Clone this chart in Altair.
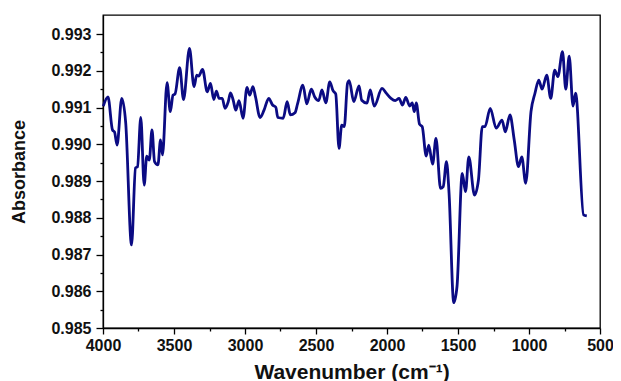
import altair as alt
import pandas as pd

wavenumber = [3998, 3965, 3933, 3919, 3901, 3868, 3840, 3799, 3771, 3757, 3734, 3710, 3692, 3674,
              3655, 3637, 3613, 3595, 3581, 3549, 3526, 3507, 3493, 3460, 3433, 3391, 3359, 3340,
              3326, 3299, 3266, 3243, 3220, 3201, 3183, 3160, 3141, 3118, 3102, 3083, 3065, 3042,
              3014, 2986, 2967, 2944, 2926, 2894, 2866, 2833, 2806, 2783, 2769, 2731, 2703, 2681,
              2648, 2630, 2592, 2565, 2533, 2509, 2481, 2458, 2431, 2403, 2380, 2361, 2338, 2319,
              2301, 2278, 2266, 2234, 2197, 2178, 2141, 2118, 2090, 2035, 2007, 1972, 1942, 1915,
              1891, 1868, 1840, 1822, 1808, 1794, 1771, 1752, 1724, 1706, 1679, 1655, 1623, 1604,
              1581, 1563, 1530, 1507, 1470, 1447, 1424, 1384, 1356, 1329, 1310, 1273, 1231, 1190,
              1167, 1134, 1104, 1074, 1051, 1023, 986, 958, 931, 908, 875, 847, 819, 797, 764, 741,
              717, 690, 672, 616, 593]
absorbance = [0.99104, 0.99129, 0.99039, 0.99034, 0.98998, 0.99125, 0.99058, 0.98726, 0.98936,
              0.98939, 0.99073, 0.98889, 0.98968, 0.98957, 0.99039, 0.98953, 0.98944, 0.99012,
              0.98971, 0.99168, 0.99089, 0.99134, 0.99137, 0.99209, 0.99122, 0.99261, 0.99157,
              0.99188, 0.99186, 0.99204, 0.99143, 0.99166, 0.99122, 0.99145, 0.99125, 0.99125,
              0.99098, 0.99116, 0.99140, 0.99120, 0.99093, 0.99119, 0.99071, 0.99155, 0.99134,
              0.99157, 0.99129, 0.99073, 0.99093, 0.99125, 0.99107, 0.99101, 0.99073, 0.99071,
              0.99116, 0.99080, 0.99086, 0.99110, 0.99161, 0.99110, 0.99150, 0.99129, 0.99119,
              0.99148, 0.99113, 0.99170, 0.99146, 0.99137, 0.98989, 0.99052, 0.99048, 0.99166,
              0.99173, 0.99116, 0.99159, 0.99120, 0.99112, 0.99148, 0.99104, 0.99152, 0.99140,
              0.99125, 0.99119, 0.99125, 0.99107, 0.99128, 0.99104, 0.99113, 0.99089, 0.99113,
              0.99055, 0.99048, 0.98968, 0.98998, 0.98946, 0.99016, 0.98880, 0.98885, 0.98953,
              0.98867, 0.98569, 0.98613, 0.98921, 0.98871, 0.98966, 0.98862, 0.98903, 0.99048,
              0.99048, 0.99098, 0.99044, 0.99066, 0.99034, 0.99080, 0.99012, 0.98939, 0.98966,
              0.98894, 0.99089, 0.99139, 0.99175, 0.99150, 0.99188, 0.99125, 0.99202, 0.99184,
              0.99252, 0.99150, 0.99240, 0.99104, 0.99139, 0.98808, 0.98805]

x_ticks = [500, 750, 1000, 1250, 1500, 1750, 2000, 2250, 2500, 2750, 3000, 3250, 3500, 3750, 4000]
y_ticks = [0.985, 0.9855, 0.986, 0.9865, 0.987, 0.9875, 0.988, 0.9885, 0.989, 0.9895,
           0.990, 0.9905, 0.991, 0.9915, 0.992, 0.9925, 0.993]

df = pd.DataFrame({"wn": wavenumber, "ab": absorbance})

FONT = "Liberation Sans"

x_axis = alt.Axis(
    values=x_ticks,
    labelExpr="datum.value % 500 === 0 ? format(datum.value, 'd') : ''",
    tickSize={"condition": {"test": "datum.value % 500 === 0", "value": 6}, "value": 3},
    labelFlush=False, labelOverlap=False, grid=False,
    labelFont=FONT, labelFontSize=16, labelFontWeight="bold", labelColor="#111",
    labelPadding=3,
    title="Wavenumber (cm\u207b\u00b9)", titleFont=FONT, titleFontSize=21,
    titleFontWeight="bold", titleColor="#111", titlePadding=8,
    domainColor="black", tickColor="black", domainWidth=1.3, tickWidth=1.3,
)
y_axis = alt.Axis(
    values=y_ticks,
    labelExpr="round(datum.value * 10000) % 10 === 0 ? format(datum.value, '.3f') : ''",
    tickSize={"condition": {"test": "round(datum.value * 10000) % 10 === 0", "value": 7}, "value": 3},
    labelOverlap=False, labelFlush=False, grid=False,
    labelFont=FONT, labelFontSize=16, labelFontWeight="bold", labelColor="#111",
    labelPadding=5,
    title="Absorbance", titleFont=FONT, titleFontSize=18,
    titleFontWeight="bold", titleColor="#111", titlePadding=22,
    domainColor="black", tickColor="black", domainWidth=1.3, tickWidth=1.3,
)

chart = (
    alt.Chart(df)
    .mark_line(color="#0b0b83", strokeWidth=2.8, interpolate="monotone")
    .encode(
        x=alt.X("wn:Q", scale=alt.Scale(domain=[500, 4000], reverse=True, nice=False, zero=False), axis=x_axis),
        y=alt.Y("ab:Q", scale=alt.Scale(domain=[0.985, 0.99352], nice=False, zero=False), axis=y_axis),
    )
    .properties(
        width=497, height=313,
        autosize=alt.AutoSizeParams(type="none"),
        padding={"left": 95, "top": 7, "right": 13, "bottom": 53},
        background="white",
    )
    .configure_view(stroke="black", strokeWidth=1.3)
)

chart.save("out.html", embed_options={"renderer": "svg", "actions": False})
